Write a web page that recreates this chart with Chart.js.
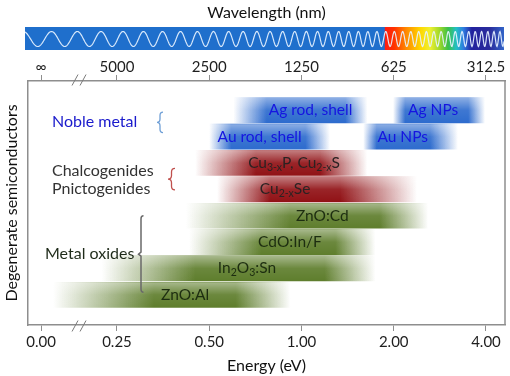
<!DOCTYPE html>
<html>
<head>
<meta charset="utf-8">
<script src="https://cdn.jsdelivr.net/npm/chart.js@4.4.1/dist/chart.umd.min.js"></script>
<style>
  html, body { margin: 0; padding: 0; background: #fff; }
  #wrap { width: 510px; height: 376px; }
</style>
</head>
<body>
<div id="wrap"><canvas id="chart"></canvas></div>
<script>
// axis ticks (energy in eV, and the matching wavelength in nm)
var energyTicks = [0, 0.25, 0.5, 1, 2, 4];
var energyLabels = ['0.00', '0.25', '0.50', '1.00', '2.00', '4.00'];
var wavelengthLabels = ['\u221e', '5000', '2500', '1250', '625', '312.5'];

// one entry per band; two bands share row 0 and row 1
var barNames = ['Ag rod, shell', 'Ag NPs', 'Au rod, shell', 'Au NPs',
  'Cu_{3-x}P, Cu_{2-x}S', 'Cu_{2-x}Se', 'ZnO:Cd', 'CdO:In/F', 'In_{2}O_{3}:Sn', 'ZnO:Al'];
var barRows = [0, 0, 1, 1, 2, 3, 4, 5, 6, 7];
var barGroups = ['noble', 'noble', 'noble', 'noble', 'chalco', 'chalco', 'oxide', 'oxide', 'oxide', 'oxide'];
// band energies (eV): where it starts fading in, full strength, end of full strength, faded out
var fadeStart = [0.60, 1.99, 0.50, 1.59, 0.45, 0.53, 0.42, 0.43, 0.20, 0.04];
var fullStart = [0.77, 2.18, 0.59, 1.76, 0.71, 0.79, 0.92, 0.74, 0.45, 0.33];
var fullEnd   = [1.39, 3.50, 1.03, 2.63, 1.15, 1.34, 1.80, 1.29, 1.19, 0.61];
var fadeEnd   = [1.64, 3.97, 1.24, 3.24, 1.64, 2.38, 2.59, 1.74, 1.74, 0.92];
var labelAt   = [1.07, 2.69, 0.73, 2.14, 0.945, 0.884, 1.17, 0.917, 0.664, 0.417];

var groupTitles = ['Noble metal', 'Chalcogenides', 'Pnictogenides', 'Metal oxides'];
var groupTitleRows = [0.45, 2.29, 2.97, 5.46];

var GROUP_COLORS = { noble: [46, 108, 206], chalco: [145, 18, 22], oxide: [95, 126, 45] };
var LABEL_COLORS = { noble: '#1515e0', chalco: '#2b2222', oxide: '#1d2d10' };
var FONT = 'Lato, "Open Sans", sans-serif';
var AXIS_GREY = '#8e8e8e';

// broken axis: 0..0.25 eV is squeezed into a short linear piece left of 0.25
var ZERO_AT = 0.1413;
var X_MIN = 0.1281, X_MAX = 4.614;
function axisE(e) {
  if (e >= 0.25) return e;
  return ZERO_AT * Math.pow(0.25 / ZERO_AT, e / 0.25);
}

function rgba(c, a) { return 'rgba(' + c[0] + ',' + c[1] + ',' + c[2] + ',' + a + ')'; }

function barFill(ctx) {
  var chart = ctx.chart, xs = chart.scales.x, i = ctx.dataIndex;
  if (!xs || !chart.chartArea || i === undefined) return 'rgba(0,0,0,0)';
  var p = [fadeStart[i], fullStart[i], fullEnd[i], fadeEnd[i]].map(function (e) {
    return xs.getPixelForValue(axisE(e));
  });
  var c = GROUP_COLORS[barGroups[i]];
  var w = p[3] - p[0];
  var g = chart.ctx.createLinearGradient(p[0], 0, p[3], 0);
  g.addColorStop(0, rgba(c, 0));
  g.addColorStop((p[1] - p[0]) / w, rgba(c, 1));
  g.addColorStop((p[2] - p[0]) / w, rgba(c, 1));
  g.addColorStop(1, rgba(c, 0));
  return g;
}

// "Cu_{2-x}Se" -> [{t:'Cu'},{t:'2-x',sub:true},{t:'Se'}]
function parseSub(s) {
  var out = [], re = /_\{([^}]*)\}/g, last = 0, m;
  while ((m = re.exec(s))) {
    if (m.index > last) out.push({ t: s.slice(last, m.index) });
    out.push({ t: m[1], sub: true });
    last = re.lastIndex;
  }
  if (last < s.length) out.push({ t: s.slice(last) });
  return out;
}

function drawRichText(ctx, s, cx, cy, size) {
  var parts = parseSub(s), total = 0;
  parts.forEach(function (p) {
    ctx.font = (p.sub ? size * 0.68 : size) + 'px ' + FONT;
    p.w = ctx.measureText(p.t).width;
    total += p.w;
  });
  var x = cx - total / 2;
  ctx.textAlign = 'left';
  ctx.textBaseline = 'middle';
  parts.forEach(function (p) {
    ctx.font = (p.sub ? size * 0.68 : size) + 'px ' + FONT;
    ctx.fillText(p.t, x, p.sub ? cy + size * 0.28 : cy);
    x += p.w;
  });
}

function drawBrace(ctx, x, top, bot, w, color) {
  var mid = (top + bot) / 2, r = Math.min(w, (bot - top) / 6);
  ctx.save();
  ctx.strokeStyle = color;
  ctx.lineWidth = 1.3;
  ctx.beginPath();
  ctx.moveTo(x + w, top);
  ctx.quadraticCurveTo(x + w / 2, top, x + w / 2, top + r);
  ctx.lineTo(x + w / 2, mid - r);
  ctx.quadraticCurveTo(x + w / 2, mid, x, mid);
  ctx.quadraticCurveTo(x + w / 2, mid, x + w / 2, mid + r);
  ctx.lineTo(x + w / 2, bot - r);
  ctx.quadraticCurveTo(x + w / 2, bot, x + w, bot);
  ctx.stroke();
  ctx.restore();
}

function drawBreak(ctx, x, y) {
  ctx.save();
  ctx.strokeStyle = '#7a7a7a';
  ctx.lineWidth = 1;
  [0, 8].forEach(function (dx) {
    ctx.beginPath();
    ctx.moveTo(x + dx - 3, y + 5.5);
    ctx.lineTo(x + dx + 3, y - 5.5);
    ctx.stroke();
  });
  ctx.restore();
}

// spectrum strip above the plot
var spectrumStops = [[0, '#ff1a10'], [0.08, '#ff3300'], [0.18, '#ff8a00'], [0.3, '#ffd800'],
  [0.38, '#eef030'], [0.46, '#9ed82a'], [0.53, '#3cc048'], [0.6, '#22bfc4'], [0.66, '#2f7ce0'],
  [0.73, '#22229e'], [0.88, '#2a2c9c'], [1, '#3264c8']];

// light sheen on the upper part of each band
var sheenPlugin = {
  id: 'sheen',
  afterDatasetsDraw: function (chart) {
    var ctx = chart.ctx;
    chart.getDatasetMeta(0).data.forEach(function (bar) {
      var p = bar.getProps(['x', 'base', 'y', 'height'], true);
      var top = p.y - p.height / 2;
      var g = ctx.createLinearGradient(0, top, 0, top + p.height);
      g.addColorStop(0, 'rgba(255,255,255,0.45)');
      g.addColorStop(0.5, 'rgba(255,255,255,0.08)');
      g.addColorStop(1, 'rgba(255,255,255,0)');
      ctx.save();
      ctx.fillStyle = g;
      ctx.fillRect(Math.min(p.base, p.x), top, Math.abs(p.x - p.base), p.height);
      ctx.restore();
    });
  }
};

var decorPlugin = {
  id: 'decor',
  afterDraw: function (chart) {
    var ctx = chart.ctx, a = chart.chartArea, xs = chart.scales.x, ys = chart.scales.y;
    // strip
    var sx0 = a.left - 3, sx1 = a.right - 1, sy0 = 27, sy1 = 50;
    ctx.save();
    ctx.fillStyle = '#1f6fcc';
    ctx.fillRect(sx0, sy0, sx1 - sx0, sy1 - sy0);
    var rx0 = xs.getPixelForValue(1.87);
    var g = ctx.createLinearGradient(rx0, 0, sx1, 0);
    spectrumStops.forEach(function (s) { g.addColorStop(s[0], s[1]); });
    ctx.fillStyle = g;
    ctx.fillRect(rx0, sy0, sx1 - rx0, sy1 - sy0);
    // chirped wave
    ctx.beginPath();
    ctx.rect(sx0, sy0, sx1 - sx0, sy1 - sy0);
    ctx.clip();
    ctx.strokeStyle = 'rgba(230,242,255,0.92)';
    ctx.lineWidth = 1.2;
    ctx.beginPath();
    var phase = -1.2, mid = 39, amp = 7.5;
    for (var x = sx0; x <= sx1; x += 0.5) {
      var f = (1 / 28) * Math.pow(2, (x - 40) / 205);
      var y = mid + amp * Math.sin(phase);
      if (x === sx0) ctx.moveTo(x, y); else ctx.lineTo(x, y);
      phase += 2 * Math.PI * f * 0.5;
    }
    ctx.stroke();
    ctx.restore();

    // right frame line
    ctx.save();
    ctx.strokeStyle = AXIS_GREY;
    ctx.lineWidth = 1.5;
    ctx.beginPath();
    ctx.moveTo(a.right, a.top);
    ctx.lineTo(a.right, a.bottom);
    ctx.stroke();
    ctx.restore();

    // axis breaks
    var bx = (xs.getPixelForValue(ZERO_AT) + xs.getPixelForValue(0.25)) / 2 - 4;
    drawBreak(ctx, bx, a.bottom + 1);
    drawBreak(ctx, bx, a.top - 1);

    // band labels
    ctx.save();
    barNames.forEach(function (name, i) {
      ctx.fillStyle = LABEL_COLORS[barGroups[i]];
      drawRichText(ctx, name, xs.getPixelForValue(axisE(labelAt[i])), ys.getPixelForValue(barRows[i]), 15.5);
    });

    // group titles and braces
    ctx.font = '16px ' + FONT;
    ctx.textAlign = 'left';
    ctx.textBaseline = 'middle';
    var tColors = ['#1a1acc', '#333333', '#333333', '#1f2b1a'];
    var tX = [a.left + 24, a.left + 24, a.left + 24, a.left + 17];
    groupTitles.forEach(function (t, k) {
      ctx.fillStyle = tColors[k];
      ctx.fillText(t, tX[k], ys.getPixelForValue(groupTitleRows[k]));
    });
    var r = function (v) { return ys.getPixelForValue(v); };
    drawBrace(ctx, a.left + 129, r(0.07), r(0.85), 6, '#6f9fd6');
    drawBrace(ctx, a.left + 140, r(2.2), r(3.02), 7, '#c0504d');
    // metal oxides bracket
    var mx = a.left + 113, mt = r(4.0), mb = r(6.9), mm = r(5.46);
    ctx.strokeStyle = '#6a6a6a';
    ctx.lineWidth = 1.5;
    ctx.beginPath();
    ctx.moveTo(mx + 2.5, mt);
    ctx.quadraticCurveTo(mx, mt, mx, mt + 3);
    ctx.lineTo(mx, mm - 2);
    ctx.lineTo(mx - 2.5, mm);
    ctx.lineTo(mx, mm + 2);
    ctx.lineTo(mx, mb - 3);
    ctx.quadraticCurveTo(mx, mb, mx + 2.5, mb);
    ctx.stroke();
    ctx.restore();
  }
};

var tickFont = { family: FONT, size: 15 };
var titleFont = { family: FONT, size: 16 };

function energyAxis(position, labels, title, height, titlePad, tickPad) {
  return {
    type: 'logarithmic',
    position: position,
    min: X_MIN,
    max: X_MAX,
    afterBuildTicks: function (s) {
      s.ticks = energyTicks.map(function (e) { return { value: axisE(e) }; });
    },
    afterFit: function (s) { s.height = height; },
    ticks: {
      autoSkip: false,
      maxRotation: 0,
      padding: tickPad,
      color: '#1e1e1e',
      font: tickFont,
      callback: function (v, i) { return labels[i]; }
    },
    grid: { display: true, drawOnChartArea: false, drawTicks: true, tickLength: 6, color: AXIS_GREY, lineWidth: 1 },
    border: { display: true, color: AXIS_GREY, width: 1.5 },
    title: { display: true, text: title, color: '#111', font: titleFont, padding: titlePad }
  };
}

new Chart(document.getElementById('chart'), {
  type: 'bar',
  data: {
    datasets: [{
      data: barRows.map(function (row, i) {
        return { x: [axisE(fadeStart[i]), axisE(fadeEnd[i])], y: row };
      }),
      backgroundColor: barFill,
      borderWidth: 0,
      borderSkipped: false,
      barThickness: 25
    }]
  },
  options: {
    indexAxis: 'y',
    responsive: true,
    maintainAspectRatio: false,
    animation: false,
    devicePixelRatio: 1,
    layout: { padding: { left: 0, right: 5, top: 0, bottom: 0 } },
    plugins: { legend: { display: false }, tooltip: { enabled: false } },
    scales: {
      x: energyAxis('bottom', energyLabels, 'Energy (eV)', 51, { top: 0, bottom: 1 }, 2),
      xTop: energyAxis('top', wavelengthLabels, 'Wavelength (nm)', 81, { top: 3, bottom: 0 }, -1),
      y: {
        type: 'linear',
        reverse: true,
        min: -0.649,
        max: 7.683,
        afterFit: function (s) { s.width = 28; },
        ticks: { display: false },
        grid: { display: false, drawTicks: false },
        border: { display: true, color: AXIS_GREY, width: 1.5 },
        title: { display: true, text: 'Degenerate semiconductors', color: '#111', font: titleFont, padding: { top: 2, bottom: 0 } }
      }
    }
  },
  plugins: [sheenPlugin, decorPlugin]
});
</script>
</body>
</html>
